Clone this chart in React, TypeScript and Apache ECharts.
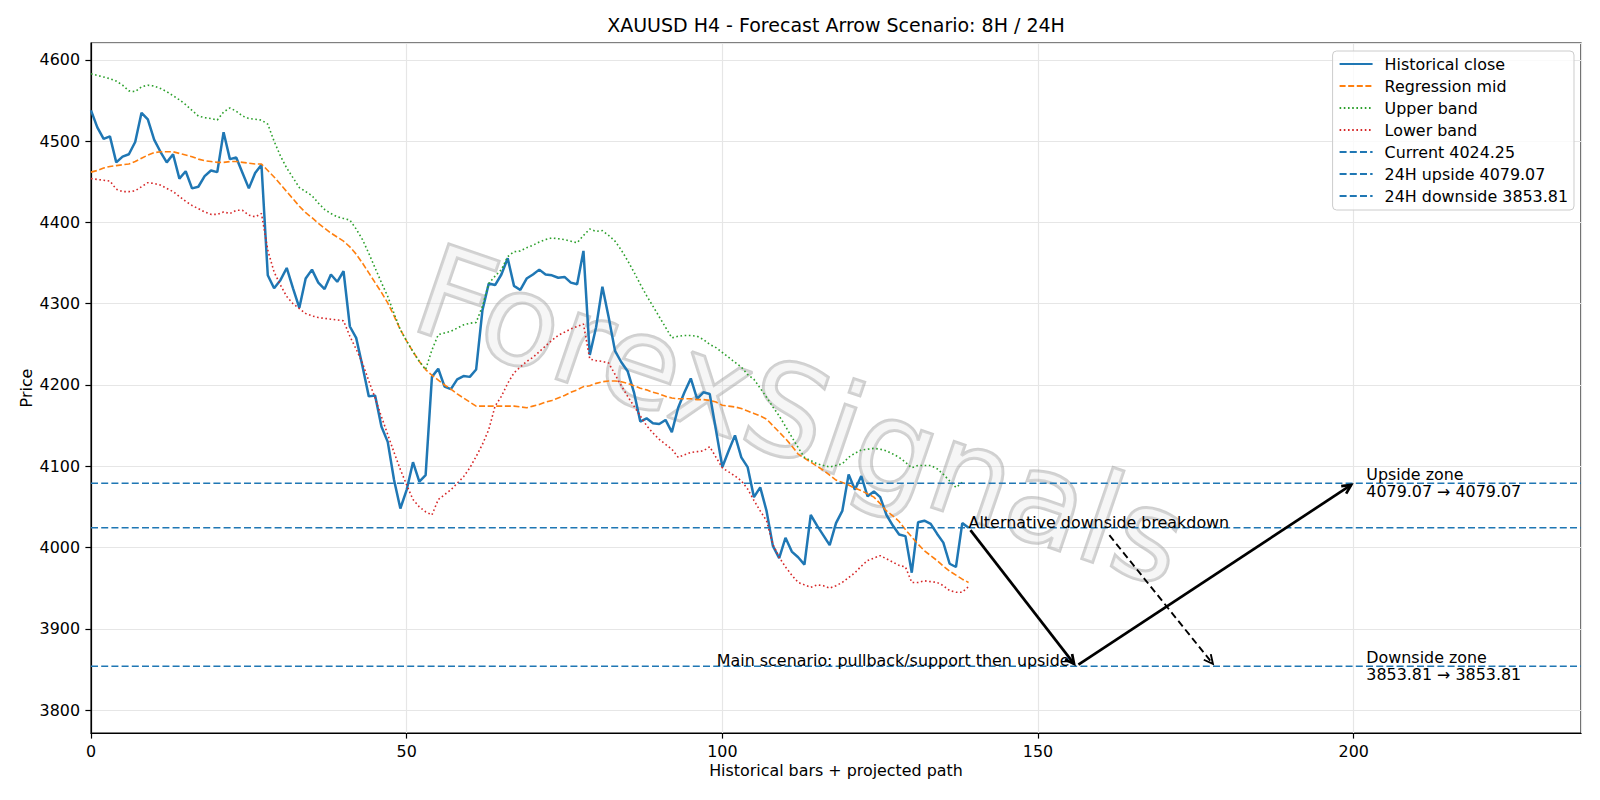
import React, { useEffect, useRef } from "react";
import * as echarts from "echarts";

const TITLE = "XAUUSD H4 - Forecast Arrow Scenario: 8H / 24H";
const X_NAME = "Historical bars + projected path";
const Y_NAME = "Price";
const WATERMARK = "ForexSignals";

const X_MIN = 0;
const X_MAX = 236;
const Y_MIN = 3771.7;
const Y_MAX = 4620.9;

const CLOSE = [
  4538, 4517, 4503, 4506, 4474, 4481, 4484, 4499, 4535, 4527,
  4502, 4487, 4474, 4484, 4454, 4463, 4442, 4444, 4457, 4464,
  4462, 4511, 4478, 4480, 4461, 4442, 4461, 4471, 4335, 4319,
  4329, 4344, 4319, 4295, 4331, 4342, 4326, 4318, 4336, 4327,
  4340, 4272, 4258, 4223, 4186, 4187, 4149, 4130, 4083, 4048,
  4071, 4105, 4081, 4089, 4210, 4220, 4198, 4195, 4207, 4211,
  4210, 4219, 4292, 4325, 4323, 4336, 4356, 4322, 4317, 4331,
  4336, 4342, 4336, 4335, 4332, 4333, 4326, 4324, 4365, 4237,
  4271, 4321, 4283, 4242, 4228, 4217, 4191, 4155, 4159, 4153,
  4152, 4157, 4142, 4172, 4191, 4208, 4183, 4191, 4189, 4144,
  4099, 4119, 4138, 4111, 4099, 4062, 4074, 4045, 4002, 3987,
  4012, 3995, 3988, 3979, 4040, 4027, 4015, 4003, 4030, 4045,
  4090, 4071, 4088, 4063, 4069, 4062, 4040, 4027, 4016, 4014,
  3969, 4031, 4033, 4029, 4017, 4006, 3980, 3976, 4030, 4024.25,
];

const MID = [
  4462, 4464, 4467, 4469, 4470, 4471, 4472, 4475, 4479, 4483,
  4486, 4487, 4487, 4487, 4485, 4483, 4481, 4478, 4476, 4475,
  4474, 4474, 4475, 4475, 4474, 4473, 4472, 4472, 4464, 4456,
  4447, 4438, 4429, 4420, 4412, 4406, 4399, 4393, 4387, 4382,
  4377, 4370, 4361, 4350, 4338, 4326, 4314, 4301, 4285, 4268,
  4254, 4241, 4229, 4219, 4212, 4206, 4200, 4195, 4189, 4184,
  4179, 4174, 4174, 4174, 4174, 4174, 4174, 4174, 4173, 4172,
  4174, 4176, 4179, 4181, 4184, 4187, 4191, 4194, 4198, 4199,
  4202, 4204, 4205, 4205, 4204, 4202, 4199, 4196, 4194, 4191,
  4189, 4186, 4184, 4183, 4183, 4183, 4182, 4182, 4181, 4179,
  4175, 4174, 4173, 4171, 4168, 4165, 4162, 4158, 4150, 4142,
  4134, 4125, 4115, 4110, 4105, 4100, 4095, 4089, 4083, 4080,
  4077, 4073, 4070, 4066, 4062, 4054, 4045, 4039, 4032, 4022,
  4013, 4004, 3996, 3990, 3984, 3977, 3971, 3966, 3961, 3957,
];

const UPPER = [
  4583, 4581, 4579, 4577, 4574, 4569, 4562, 4561, 4567, 4569,
  4568, 4565, 4561, 4556, 4551, 4545, 4538, 4531, 4529, 4528,
  4526, 4536, 4541, 4537, 4531, 4528, 4527, 4526, 4521, 4500,
  4482, 4467, 4455, 4443, 4438, 4433, 4424, 4416, 4411, 4407,
  4405, 4403, 4392, 4379, 4362, 4344, 4326, 4309, 4288, 4268,
  4254, 4241, 4229, 4219, 4243, 4262, 4264, 4266, 4270, 4274,
  4276, 4277, 4297, 4325, 4334, 4342, 4358, 4364, 4365, 4369,
  4372, 4376, 4379, 4381, 4380, 4379, 4377, 4375, 4384, 4392,
  4389, 4390, 4384, 4377, 4366, 4353, 4339, 4324, 4310, 4297,
  4284, 4271, 4258, 4260, 4261, 4261, 4260, 4256, 4250, 4246,
  4240, 4234, 4228, 4222, 4213, 4207, 4196, 4185, 4173, 4162,
  4149, 4136, 4123, 4111, 4107, 4103, 4101, 4099, 4101, 4103,
  4111, 4116, 4120, 4121, 4122, 4121, 4119, 4115, 4111, 4105,
  4098, 4101, 4101, 4101, 4097, 4090, 4082, 4074, 4080, null,
];

const LOWER = [
  4454, 4453, 4452, 4451, 4441, 4438, 4438, 4439, 4444, 4449,
  4448, 4446, 4442, 4438, 4432, 4426, 4421, 4417, 4413, 4410,
  4410, 4413, 4411, 4415, 4415, 4409, 4407, 4411, 4366, 4339,
  4323, 4309, 4300, 4294, 4288, 4285, 4283, 4282, 4281, 4280,
  4279, 4260, 4244, 4227, 4205, 4184, 4161, 4139, 4117, 4096,
  4077, 4059, 4050, 4044, 4040, 4059, 4065, 4071, 4079, 4087,
  4098, 4112, 4127, 4145, 4174, 4186, 4202, 4215, 4222, 4229,
  4234, 4241, 4248, 4255, 4261, 4265, 4269, 4272, 4275, 4232,
  4230, 4229, 4227, 4213, 4199, 4186, 4174, 4162, 4150, 4141,
  4133, 4127, 4121, 4111, 4114, 4117, 4118, 4119, 4124, 4111,
  4098, 4093, 4088, 4082, 4072, 4058, 4045, 4033, 4004, 3988,
  3976, 3966, 3957, 3954, 3951, 3954, 3953, 3950, 3953, 3957,
  3963, 3969, 3977, 3984, 3987, 3990, 3986, 3982, 3978, 3976,
  3957, 3957, 3959, 3958, 3957, 3953, 3947, 3945, 3945, 3952,
];

const CURRENT = 4024.25;
const UPSIDE = 4079.07;
const DOWNSIDE = 3853.81;

// arrows: [x1, y1, x2, y2, dashed]
const ARROWS = [
  [139, CURRENT, 156, DOWNSIDE, 0],
  [156, DOWNSIDE, 200, UPSIDE, 0],
  [161, 4018, 178, DOWNSIDE, 1],
];

const ANNOT_TEXTS = [
  "Alternative downside breakdown",
  "Main scenario: pullback/support then upside",
  "Upside zone\n4079.07 \u2192 4079.07",
  "Downside zone\n3853.81 \u2192 3853.81",
];
const ANNOT_POINTS = [
  [139, CURRENT],
  [155, DOWNSIDE],
  [202, UPSIDE],
  [202, DOWNSIDE],
];
const ANNOT_ALIGN = ["left", "right", "left", "left"];
const ANNOT_BASELINE = [true, true, false, false];

const FONT = "DejaVu Sans";
const FS = 15.9;

const idx = (arr: (number | null)[]) => arr.map((v, i) => [i, v]);

const hline = (name: string, v: number) => ({
  name,
  type: "line",
  data: [
    [X_MIN, v],
    [X_MAX, v],
  ],
  symbol: "none",
  showSymbol: false,
  silent: true,
  lineStyle: { color: "#1f77b4", width: 1.6, type: [7, 3.2] },
  itemStyle: { color: "#1f77b4" },
  z: 3,
});

export default function App() {
  const ref = useRef<HTMLDivElement>(null);
  useEffect(() => {
    const chart = echarts.init(ref.current!, null, { renderer: "svg" });
    const option: any = {
      animation: false,
      backgroundColor: "#ffffff",
      textStyle: { fontFamily: FONT },
      title: {
        text: TITLE,
        left: 831,
        top: 10,
        textAlign: "center",
        textStyle: { fontFamily: FONT, fontSize: 19, fontWeight: "normal", color: "#000" },
      },
      grid: {
        left: 91,
        right: 19,
        top: 43,
        bottom: 67,
        show: true,
        borderColor: "#000",
        borderWidth: 1.2,
        backgroundColor: "transparent",
        containLabel: false,
        outerBoundsMode: "none",
      },
      legend: {
        data: [
          "Historical close",
          "Regression mid",
          "Upper band",
          "Lower band",
          `Current ${CURRENT}`,
          `24H upside ${UPSIDE}`,
          `24H downside ${DOWNSIDE}`,
        ],
        orient: "vertical",
        right: 26,
        top: 51,
        itemWidth: 33,
        itemHeight: 14,
        itemGap: 6,
        padding: [5, 6, 6, 6],
        backgroundColor: "rgba(255,255,255,0.8)",
        borderColor: "#cccccc",
        borderWidth: 1,
        borderRadius: 4,
        selectedMode: false,
        itemStyle: { opacity: 0 },
        textStyle: { fontFamily: FONT, fontSize: FS, color: "#000", padding: [0, 0, 0, 7] },
      },
      xAxis: {
        type: "value",
        min: X_MIN,
        max: X_MAX,
        interval: 50,
        name: X_NAME,
        nameLocation: "middle",
        nameGap: 29,
        nameMoveOverlap: false,
        nameTextStyle: { fontFamily: FONT, fontSize: FS, color: "#000" },
        axisLine: { show: true, lineStyle: { color: "#000", width: 1.2 } },
        axisTick: { show: true, length: 5.6, lineStyle: { color: "#000", width: 1.2 } },
        axisLabel: {
          fontFamily: FONT,
          fontSize: FS,
          color: "#000",
          margin: 10,
          showMaxLabel: false,
          formatter: (v: number) => String(v),
        },
        splitLine: { show: true, lineStyle: { color: "#e6e6e6", width: 1.2 } },
      },
      yAxis: {
        type: "value",
        min: Y_MIN,
        max: Y_MAX,
        minInterval: 100,
        maxInterval: 100,
        name: Y_NAME,
        nameLocation: "middle",
        nameGap: 57,
        nameMoveOverlap: false,
        nameTextStyle: { fontFamily: FONT, fontSize: FS, color: "#000" },
        axisLine: { show: true, lineStyle: { color: "#000", width: 1.2 } },
        axisTick: { show: true, length: 5.6, lineStyle: { color: "#000", width: 1.2 } },
        axisLabel: {
          fontFamily: FONT,
          fontSize: FS,
          color: "#000",
          margin: 11,
          showMinLabel: false,
          showMaxLabel: false,
          formatter: (v: number) => String(v),
        },
        splitLine: { show: true, lineStyle: { color: "#e6e6e6", width: 1.2 } },
      },
      graphic: [
        {
          type: "text",
          x: 801,
          y: 416,
          rotation: -0.33,
          z: 1,
          silent: true,
          style: {
            text: WATERMARK,
            align: "center",
            verticalAlign: "middle",
            fontFamily: FONT,
            fontSize: 127,
            fill: "rgba(225,225,225,0.3)",
            stroke: "rgba(140,140,140,0.42)",
            lineWidth: 3,
          },
        },
      ],
      series: [
        {
          name: "Historical close",
          type: "line",
          data: idx(CLOSE),
          symbol: "none",
          showSymbol: false,
          silent: true,
          lineStyle: { color: "#1f77b4", width: 2.5 },
          itemStyle: { color: "#1f77b4" },
          z: 3,
        },
        {
          name: "Regression mid",
          type: "line",
          data: idx(MID),
          symbol: "none",
          showSymbol: false,
          silent: true,
          lineStyle: { color: "#ff7f0e", width: 1.6, type: [6, 2.6] },
          itemStyle: { color: "#ff7f0e" },
          z: 3,
        },
        {
          name: "Upper band",
          type: "line",
          data: idx(UPPER),
          symbol: "none",
          showSymbol: false,
          silent: true,
          connectNulls: false,
          lineStyle: { color: "#2ca02c", width: 1.6, type: [1.6, 2.6] },
          itemStyle: { color: "#2ca02c" },
          z: 3,
        },
        {
          name: "Lower band",
          type: "line",
          data: idx(LOWER),
          symbol: "none",
          showSymbol: false,
          silent: true,
          lineStyle: { color: "#d62728", width: 1.6, type: [1.6, 2.6] },
          itemStyle: { color: "#d62728" },
          z: 3,
        },
        hline(`Current ${CURRENT}`, CURRENT),
        hline(`24H upside ${UPSIDE}`, UPSIDE),
        hline(`24H downside ${DOWNSIDE}`, DOWNSIDE),
        {
          name: "arrows",
          type: "custom",
          silent: true,
          z: 5,
          data: ARROWS,
          renderItem: (params: any, api: any) => {
            const p1 = api.coord([api.value(0), api.value(1)]);
            const p2 = api.coord([api.value(2), api.value(3)]);
            const dashed = api.value(4) === 1;
            const dx = p2[0] - p1[0];
            const dy = p2[1] - p1[1];
            const len = Math.hypot(dx, dy) || 1;
            const ux = dx / len;
            const uy = dy / len;
            const shrink = 3;
            const tip = [p2[0] - ux * shrink, p2[1] - uy * shrink];
            const start = [p1[0] + ux * shrink, p1[1] + uy * shrink];
            const hl = 9;
            const hw = 4.5;
            const base = [tip[0] - ux * hl, tip[1] - uy * hl];
            const left = [base[0] - uy * hw, base[1] + ux * hw];
            const right = [base[0] + uy * hw, base[1] - ux * hw];
            const lw = dashed ? 1.9 : 2.7;
            return {
              type: "group",
              children: [
                {
                  type: "line",
                  shape: { x1: start[0], y1: start[1], x2: tip[0], y2: tip[1] },
                  style: { stroke: "#000", lineWidth: lw, lineDash: dashed ? [7, 4] : null },
                },
                {
                  type: "polyline",
                  shape: { points: [left, tip, right] },
                  style: { stroke: "#000", lineWidth: lw, fill: null },
                },
              ],
            };
          },
        },
        {
          name: "annotations",
          type: "custom",
          silent: true,
          z: 6,
          data: ANNOT_POINTS,
          renderItem: (params: any, api: any) => {
            const i = params.dataIndex;
            const p = api.coord([api.value(0), api.value(1)]);
            return {
              type: "text",
              x: p[0],
              y: ANNOT_BASELINE[i] ? p[1] - 5.5 : p[1],
              style: {
                text: ANNOT_TEXTS[i],
                fill: "#000",
                fontFamily: FONT,
                fontSize: FS,
                align: ANNOT_ALIGN[i],
                verticalAlign: "middle",
                lineHeight: 17,
              },
            };
          },
        },
      ],
    };
    chart.setOption(option);
    return () => chart.dispose();
  }, []);
  return (
    <div
      ref={ref}
      style={{ position: "fixed", left: 0, top: 0, width: 1600, height: 800, background: "#fff" }}
    />
  );
}
